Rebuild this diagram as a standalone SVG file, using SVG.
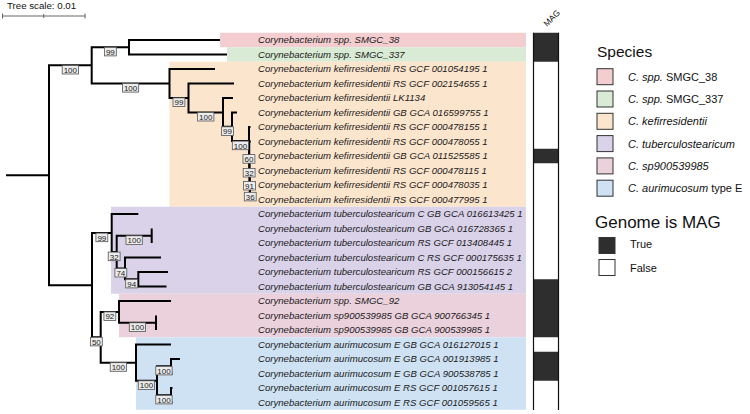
<svg xmlns="http://www.w3.org/2000/svg" width="750" height="414" viewBox="0 0 750 414">
<style>
.br{fill:none;stroke:#000;stroke-width:2;stroke-linejoin:miter}
.lf{font-family:"Liberation Sans",Arial,sans-serif;font-size:9.6px;font-style:italic;fill:#1a1a1a}
.bb rect{fill:#ececec;stroke:#555;stroke-width:0.8}
.bb text{font-family:"Liberation Sans",Arial,sans-serif;font-size:8px;fill:#222;text-anchor:middle}
.lg{font-family:"Liberation Sans",Arial,sans-serif;fill:#111}
.sw{stroke:#333;stroke-width:1}
.mag{fill:#2e2e2e}
</style>
<g id="tree-scale">
<text class="lg" x="7" y="8.6" font-size="9.7" fill="#333">Tree scale: 0.01</text>
<path d="M2 16H85.5M2.5 13.5V18.5M43.7 14V18M85 13.5V18.5" stroke="#666" stroke-width="1" fill="none"/>
</g>
<g id="clade-backgrounds">
<rect x="220" y="32.75" width="306" height="14.5" fill="#f4cdd0"/>
<rect x="227" y="47.25" width="299" height="14.5" fill="#d9ead5"/>
<rect x="169.5" y="61.75" width="356.5" height="145" fill="#fce5cd"/>
<rect x="111" y="206.75" width="415" height="87" fill="#d9d2e9"/>
<rect x="119" y="293.75" width="407" height="43.5" fill="#ead1dc"/>
<rect x="136" y="337.25" width="390" height="72.5" fill="#cfe2f3"/>
</g>
<g id="connectors">
<path class="br" d="M6 175.25H49"/>
<path class="br" d="M91.7 65.36H49V285.14H92"/>
<path class="br" d="M129 47.25H91.7V83.47H169.5"/>
<path class="br" d="M220 40H129V54.5H227"/>
<path class="br" d="M215 69H169.5V97.94H188.5"/>
<path class="br" d="M234 83.5H188.5V112.39H223"/>
<path class="br" d="M233 98H223V126.77H232"/>
<path class="br" d="M237 112.5H232V141.05H249"/>
<path class="br" d="M250.5 127H249V155.09H249.25"/>
<path class="br" d="M250.8 141.5H249.25V168.69H249.5"/>
<path class="br" d="M251 156H249.5V181.38H249.75"/>
<path class="br" d="M251.3 170.5H249.75V192.25H250"/>
<path class="br" d="M251.5 185H250V199.5H251.5"/>
<path class="br" d="M111.7 233.03H92V337.25H100.7"/>
<path class="br" d="M138.3 214H111.7V252.06H116.7"/>
<path class="br" d="M151.7 235.75H116.7V268.38H125"/>
<path class="br" d="M151.7 228.5V243"/>
<path class="br" d="M161 257.5H125V279.25H138.3"/>
<path class="br" d="M168 272H138.3V286.5H166.5"/>
<path class="br" d="M119 311.88H100.7V362.63H136"/>
<path class="br" d="M171 301H119V322.75H156"/>
<path class="br" d="M156 315.5V330"/>
<path class="br" d="M171 344.5H136V380.75H157"/>
<path class="br" d="M171 366.25H157V395.25H171"/>
<path class="br" d="M180 359H171V373.5H172.5"/>
<path class="br" d="M172.5 388H171V402.5H172.5"/>
</g>
<g id="bootstrap" class="bb">
<rect x="62.2" y="65.4" width="16.3" height="8.6"/><text x="70.35" y="72.9">100</text>
<rect x="104.4" y="47.3" width="11.9" height="8.6"/><text x="110.35" y="54.8">99</text>
<rect x="122.4" y="83.5" width="16.3" height="8.6"/><text x="130.6" y="91">100</text>
<rect x="173" y="97.9" width="11.9" height="8.6"/><text x="179" y="105.4">99</text>
<rect x="197.6" y="112.4" width="16.3" height="8.6"/><text x="205.75" y="119.9">100</text>
<rect x="221.5" y="126.8" width="11.9" height="8.6"/><text x="227.5" y="134.3">99</text>
<rect x="232.3" y="141.1" width="16.3" height="8.6"/><text x="240.5" y="148.6">100</text>
<rect x="243" y="154.6" width="11.9" height="8.6"/><text x="249" y="162.1">60</text>
<rect x="243.2" y="168.4" width="11.9" height="8.6"/><text x="249.2" y="175.9">32</text>
<rect x="243.5" y="181.4" width="11.9" height="8.6"/><text x="249.5" y="188.9">91</text>
<rect x="244.3" y="192.3" width="11.9" height="8.6"/><text x="250.3" y="199.8">36</text>
<rect x="95.9" y="233.1" width="11.9" height="8.6"/><text x="101.85" y="240.6">99</text>
<rect x="108.2" y="252.1" width="11.9" height="8.6"/><text x="114.2" y="259.6">32</text>
<rect x="126" y="235.8" width="16.3" height="8.6"/><text x="134.2" y="243.3">100</text>
<rect x="114.9" y="268.4" width="11.9" height="8.6"/><text x="120.85" y="275.9">74</text>
<rect x="125.7" y="279.3" width="11.9" height="8.6"/><text x="131.65" y="286.8">94</text>
<rect x="90.4" y="337.3" width="11.9" height="8.6"/><text x="96.35" y="344.8">50</text>
<rect x="103.9" y="311.9" width="11.9" height="8.6"/><text x="109.85" y="319.4">92</text>
<rect x="129.3" y="322.8" width="16.3" height="8.6"/><text x="137.5" y="330.3">100</text>
<rect x="110.2" y="362.7" width="16.3" height="8.6"/><text x="118.35" y="370.2">100</text>
<rect x="138.3" y="380.8" width="16.3" height="8.6"/><text x="146.5" y="388.3">100</text>
<rect x="155.8" y="366.3" width="16.3" height="8.6"/><text x="164" y="373.8">100</text>
<rect x="155.8" y="395.3" width="16.3" height="8.6"/><text x="164" y="402.8">100</text>
</g>
<g id="leaf-labels" class="lf">
<text id="leaf-0" x="258" y="43.4">Corynebacterium spp. SMGC_38</text>
<text id="leaf-1" x="258" y="57.9">Corynebacterium spp. SMGC_337</text>
<text id="leaf-2" x="258" y="72.4">Corynebacterium kefirresidentii RS GCF 001054195 1</text>
<text id="leaf-3" x="258" y="86.9">Corynebacterium kefirresidentii RS GCF 002154655 1</text>
<text id="leaf-4" x="258" y="101.4">Corynebacterium kefirresidentii LK1134</text>
<text id="leaf-5" x="258" y="115.9">Corynebacterium kefirresidentii GB GCA 016599755 1</text>
<text id="leaf-6" x="258" y="130.4">Corynebacterium kefirresidentii RS GCF 000478155 1</text>
<text id="leaf-7" x="258" y="144.9">Corynebacterium kefirresidentii RS GCF 000478055 1</text>
<text id="leaf-8" x="258" y="159.4">Corynebacterium kefirresidentii GB GCA 011525585 1</text>
<text id="leaf-9" x="258" y="173.9">Corynebacterium kefirresidentii RS GCF 000478115 1</text>
<text id="leaf-10" x="258" y="188.4">Corynebacterium kefirresidentii RS GCF 000478035 1</text>
<text id="leaf-11" x="258" y="202.9">Corynebacterium kefirresidentii RS GCF 000477995 1</text>
<text id="leaf-12" x="258" y="217.4">Corynebacterium tuberculostearicum C GB GCA 016613425 1</text>
<text id="leaf-13" x="258" y="231.9">Corynebacterium tuberculostearicum GB GCA 016728365 1</text>
<text id="leaf-14" x="258" y="246.4">Corynebacterium tuberculostearicum RS GCF 013408445 1</text>
<text id="leaf-15" x="258" y="260.9">Corynebacterium tuberculostearicum C RS GCF 000175635 1</text>
<text id="leaf-16" x="258" y="275.4">Corynebacterium tuberculostearicum RS GCF 000156615 2</text>
<text id="leaf-17" x="258" y="289.9">Corynebacterium tuberculostearicum GB GCA 913054145 1</text>
<text id="leaf-18" x="258" y="304.4">Corynebacterium spp. SMGC_92</text>
<text id="leaf-19" x="258" y="318.9">Corynebacterium sp900539985 GB GCA 900766345 1</text>
<text id="leaf-20" x="258" y="333.4">Corynebacterium sp900539985 GB GCA 900539985 1</text>
<text id="leaf-21" x="258" y="347.9">Corynebacterium aurimucosum E GB GCA 016127015 1</text>
<text id="leaf-22" x="258" y="362.4">Corynebacterium aurimucosum E GB GCA 001913985 1</text>
<text id="leaf-23" x="258" y="376.9">Corynebacterium aurimucosum E GB GCA 900538785 1</text>
<text id="leaf-24" x="258" y="391.4">Corynebacterium aurimucosum E RS GCF 001057615 1</text>
<text id="leaf-25" x="258" y="405.9">Corynebacterium aurimucosum E RS GCF 001059565 1</text>
</g>
<g id="mag-column">
<text class="lg" x="547" y="27" font-size="8.5" transform="rotate(-45 547 27)">MAG</text>
<rect x="533.5" y="32.75" width="25" height="377" fill="#fff"/>
<rect class="mag" x="533.5" y="32.75" width="25" height="29"/>
<rect class="mag" x="533.5" y="148.75" width="25" height="14.5"/>
<rect class="mag" x="533.5" y="279.25" width="25" height="58"/>
<rect class="mag" x="533.5" y="351.75" width="25" height="29"/>
<path d="M533.5 32.75V410M558.5 32.75V410" stroke="#111" stroke-width="1.2" fill="none"/>
</g>
<g id="legend-species" class="lg">
<text x="597" y="57" font-size="15.5">Species</text>
<rect class="sw" x="597" y="68.7" width="16" height="16" fill="#f4cdd0"/>
<rect class="sw" x="597" y="91" width="16" height="16" fill="#d9ead5"/>
<rect class="sw" x="597" y="113.3" width="16" height="16" fill="#fce5cd"/>
<rect class="sw" x="597" y="135.6" width="16" height="16" fill="#d9d2e9"/>
<rect class="sw" x="597" y="157.9" width="16" height="16" fill="#ead1dc"/>
<rect class="sw" x="597" y="180.2" width="16" height="16" fill="#cfe2f3"/>
<text x="628" y="80.7" font-size="11"><tspan font-style="italic">C. spp.</tspan> SMGC_38</text>
<text x="628" y="103" font-size="11"><tspan font-style="italic">C. spp.</tspan> SMGC_337</text>
<text x="628" y="125.3" font-size="11" font-style="italic">C. kefirresidentii</text>
<text x="628" y="147.6" font-size="11" font-style="italic">C. tuberculostearicum</text>
<text x="628" y="169.9" font-size="11" font-style="italic">C. sp900539985</text>
<text x="628" y="192.2" font-size="11"><tspan font-style="italic">C. aurimucosum</tspan> type E</text>
</g>
<g id="legend-mag" class="lg">
<text x="595" y="227.5" font-size="17">Genome is MAG</text>
<rect class="sw" x="599" y="237.5" width="16" height="16" fill="#2e2e2e"/>
<rect class="sw" x="599" y="259.5" width="16" height="16" fill="#fff"/>
<text x="630" y="248" font-size="11">True</text>
<text x="630" y="271.5" font-size="11">False</text>
</g>
</svg>
